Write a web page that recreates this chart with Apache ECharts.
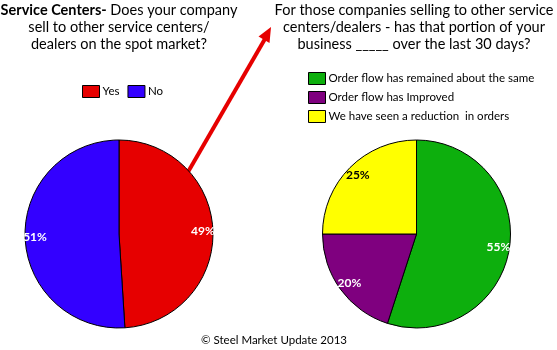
<!DOCTYPE html>
<html><head><meta charset="utf-8">
<script src="https://cdn.jsdelivr.net/npm/echarts@6/dist/echarts.min.js"></script>
<style>html,body{margin:0;padding:0;background:#fff}#c{width:557px;height:350px}</style>
</head><body><div id="c"></div>
<script>
var leftCats = ['Yes', 'No'];
var leftVals = [49, 51];
var leftColors = ['#E60000', '#3300FF'];
var rightCats = ['Order flow has remained about the same', 'Order flow has Improved', 'We have seen a reduction  in orders'];
var rightVals = [55, 20, 25];
var rightColors = ['#0DAF0D', '#7F007F', '#FFFF00'];
var rightLabelColors = ['#fff', '#fff', '#000'];

var FONT = 'Lato, "Open Sans", sans-serif';
function mk(cats, vals, cols) {
  return cats.map(function (c, i) { return { name: c, value: vals[i], itemStyle: { color: cols[i] } }; });
}
function mkLab(cats, vals, labCols) {
  return cats.map(function (c, i) { return { name: c, value: vals[i], label: { color: labCols[i] } }; });
}
var chart = echarts.init(document.getElementById('c'), null, { renderer: 'canvas' });
chart.setOption({
  animation: false,
  backgroundColor: '#fff',
  title: [
    { text: '{b|Service Centers-} Does your company\nsell to other service centers/\ndealers on the spot market?',
      left: 119, top: 2, padding: 0, textAlign: 'center',
      textStyle: { fontFamily: FONT, fontSize: 14.5, fontWeight: 'normal', color: '#000', lineHeight: 17,
        rich: { b: { fontFamily: FONT, fontSize: 14.5, fontWeight: 'bold', color: '#000', lineHeight: 17 } } } },
    { text: 'For those companies selling to other service\ncenters/dealers - has that portion of your\nbusiness _____ over the last 30 days?',
      left: 414, top: 2, padding: 0, textAlign: 'center',
      textStyle: { fontFamily: FONT, fontSize: 14.5, fontWeight: 'normal', color: '#000', lineHeight: 17 } },
    { text: '\u00a9 Steel Market Update 2013', left: 274, top: 334, padding: 0, textAlign: 'center',
      textStyle: { fontFamily: FONT, fontSize: 11.5, fontWeight: 'normal', color: '#000' } }
  ],
  legend: [
    { data: leftCats, left: 82, top: 85, padding: 0, orient: 'horizontal', itemWidth: 17, itemHeight: 12, itemGap: 8,
      icon: 'rect', selectedMode: false, textStyle: { fontFamily: FONT, fontSize: 11.5, color: '#000', padding: [0, 0, 0, -2] },
      itemStyle: { borderColor: '#000', borderWidth: 1 } },
    { data: rightCats, left: 308, top: 72, padding: 0, orient: 'vertical', itemWidth: 17, itemHeight: 12, itemGap: 6,
      icon: 'rect', selectedMode: false, textStyle: { fontFamily: FONT, fontSize: 11.5, color: '#000', padding: [0, 0, 0, -2] },
      itemStyle: { borderColor: '#000', borderWidth: 1 } }
  ],
  graphic: [
    { type: 'line', z: 1, shape: { x1: 188, y1: 172, x2: 265.5, y2: 38 }, style: { stroke: '#E60000', lineWidth: 4 } },
    { type: 'polygon', z: 1, shape: { points: [[271, 27], [269.5, 43], [258.5, 36.5]] }, style: { fill: '#E60000' } }
  ],
  series: [
    { type: 'pie', center: [119, 234], radius: 94, startAngle: 90, clockwise: true, z: 3,
      data: mk(leftCats, leftVals, leftColors), label: { show: false }, labelLine: { show: false },
      itemStyle: { borderColor: '#000', borderWidth: 1 }, silent: true },
    { type: 'pie', center: [119, 234], radius: [68, 94], startAngle: 90, clockwise: true, z: 4,
      data: mkLab(leftCats, leftVals, ['#fff', '#fff']), legendHoverLink: false,
      itemStyle: { color: 'rgba(0,0,0,0)', borderWidth: 0 }, silent: true,
      label: { show: true, position: 'inside', formatter: '{c}%', fontFamily: FONT, fontSize: 12, fontWeight: 'bold' }, labelLine: { show: false } },
    { type: 'pie', center: [416.5, 234], radius: 94, startAngle: 90, clockwise: true, z: 3,
      data: mk(rightCats, rightVals, rightColors), label: { show: false }, labelLine: { show: false },
      itemStyle: { borderColor: '#000', borderWidth: 1 }, silent: true },
    { type: 'pie', center: [416.5, 234], radius: [66, 94], startAngle: 90, clockwise: true, z: 4,
      data: mkLab(rightCats, rightVals, rightLabelColors),
      itemStyle: { color: 'rgba(0,0,0,0)', borderWidth: 0 }, silent: true,
      label: { show: true, position: 'inside', formatter: '{c}%', fontFamily: FONT, fontSize: 12, fontWeight: 'bold' }, labelLine: { show: false } }
  ]
});
</script></body></html>
